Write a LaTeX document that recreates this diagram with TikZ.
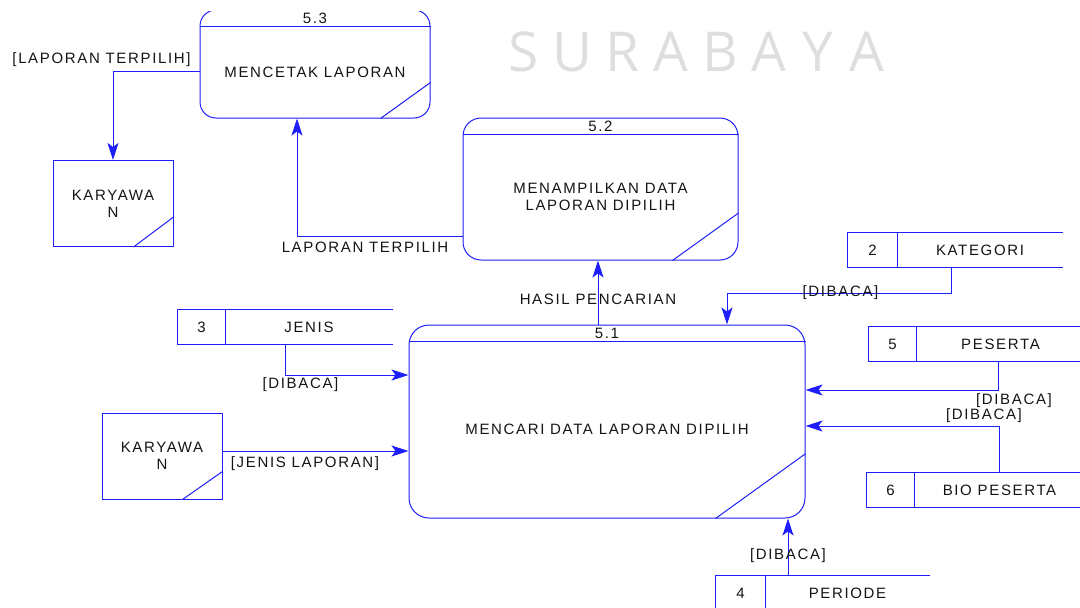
\documentclass[tikz,border=0pt]{standalone}
\usepackage{fontspec}
\setmainfont{Liberation Sans}
\newfontfamily\labelfont[LetterSpace=11]{Liberation Sans}
\newfontfamily\markfont{Open Sans}
\usetikzlibrary{arrows.meta}
\definecolor{dfdblue}{RGB}{30,30,250}
\definecolor{inkgray}{RGB}{20,20,20}

\tikzset{
	line/.style={draw=dfdblue, line width=1pt},
	flow/.style={line, -{Stealth[length=17pt,width=11pt,inset=4pt]}},
	txt/.style={font=\labelfont\fontsize{15}{17}\selectfont, text=inkgray, align=center, inner sep=0pt},
	proc/.style={line, inner sep=0pt},
	entity/.style={line, txt, minimum width=120pt, minimum height=86pt},
	store/.style={inner sep=0pt, minimum height=34pt}
}

\newcommand{\proses}[9] % name, x left, y top, x right, y bottom, radius, number, text, diagonal
{
	% rounded box
	\node[proc, rounded corners=#6pt, minimum width=#4-#2, minimum height=#5-#3] (#1) at ({(#2+#4)/2},{(#3+#5)/2}) {};
	% header line and number
	\draw[line] ([yshift=-17pt]#1.north west) -- ([yshift=-17pt]#1.north east);
	\node[txt] (#1num) at ([yshift=-9pt]#1.north) {#7};
	% corner mark
	\draw[line] ([xshift=-#9pt]#1.south east) -- ([yshift=0.72*#9pt]#1.south east);
	\node[txt] (#1txt) at ([yshift=-8pt]#1.center) {#8};
}

\newcommand{\simpan}[7] % name, x left, y top, x divider, x right, number, label
{
	% frame open at right
	\node[store, minimum width=#5-#2] (#1) at ({(#2+#5)/2},#3+17) {};
	\draw[line] (#1.north east) -- (#1.north west) -- (#1.south west) -- (#1.south east);
	\draw[line] (#4,#3) -- (#4,#3+34);
	% number and name
	\node[txt] (#1num) at ({(#2+#4)/2},#3+17) {#6};
	\node[txt] (#1name) at ({(#4+#5)/2},#3+17) {#7};
}

\begin{document}
\begin{tikzpicture}[x=1pt, y=-1pt]
	\useasboundingbox (0,0) rectangle (1080,608);
	
	% watermark
	\foreach \ch [count=\i] in {S,U,R,A,B,A,Y,A}
		\node[font=\markfont\fontsize{55}{55}\selectfont, text=gray!26, inner sep=0pt] (wm\i) at (475+49*\i,52) {\ch};
	
	% processes
	\begin{scope}
		\clip (0,11.2) rectangle (1080,608);
		\proses{p3}{200}{10}{430}{118}{16}{5.3}{MENCETAK LAPORAN}{50}
	\end{scope}
	\proses{p2}{463}{118}{738}{260}{18}{5.2}{MENAMPILKAN DATA\\LAPORAN DIPILIH}{66}
	\proses{p1}{409}{325}{805}{518}{20}{5.1}{MENCARI DATA LAPORAN DIPILIH}{90}
	
	% external entities
	\node[entity] (k1) at (113,203.5) {KARYAWA\\N};
	\draw[line] ([xshift=-40pt]k1.south east) -- ([yshift=30pt]k1.south east);
	\node[entity] (k2) at (162,456) {KARYAWA\\N};
	\draw[line] ([xshift=-40pt]k2.south east) -- ([yshift=28pt]k2.south east);
	
	% data stores
	\simpan{s2}{848}{233}{897}{1063}{2}{KATEGORI}
	\simpan{s3}{178}{310}{225}{393}{3}{JENIS}
	\simpan{s5}{869}{327}{916}{1085}{5}{PESERTA}
	\simpan{s6}{867}{473}{914}{1085}{6}{BIO PESERTA}
	\simpan{s4}{716}{576}{765}{930}{4}{PERIODE}
	
	% flows
	\draw[flow] ([yshift=-7pt]p3.west) -| (k1.north);
	\draw[flow] ([yshift=-47pt]p2.west) -| ([xshift=-18pt]p3.south);
	\draw[flow] ([xshift=-9pt]p1.north) -- ([xshift=-9pt]p1.north |- p2.south);
	\draw[flow] ([xshift=-4.5pt]s2.south) -- ++(0,26) -| ([xshift=120pt]p1.north);
	\draw[flow] (s3.south) |- ([yshift=46.5pt]p1.west);
	\draw[flow] ([yshift=5pt]k2.east) -- ([yshift=5pt]k2.east -| p1.west);
	\draw[flow] ([xshift=21pt]s5.south) |- ([yshift=31.5pt]p1.east);
	\draw[flow] ([xshift=23pt]s6.north) |- ([yshift=-4.5pt]p1.east);
	\draw[flow] ([xshift=-35pt]s4.north) -- ([xshift=-35pt]s4.north |- p1.south);
	
	% flow labels
	\node[txt] (lb1) at (101.5,60) {[LAPORAN TERPILIH]};
	\node[txt] (lb2) at (365,247) {LAPORAN TERPILIH};
	\node[txt] (lb3) at (598,299) {HASIL PENCARIAN};
	\node[txt] (lb4) at (840.5,293) {[DIBACA]};
	\node[txt] (lb5) at (300.5,385) {[DIBACA]};
	\node[txt] (lb6) at (305,464) {[JENIS LAPORAN]};
	\node[txt] (lb7) at (1014,401) {[DIBACA]};
	\node[txt] (lb8) at (984,416) {[DIBACA]};
	\node[txt] (lb9) at (788,556) {[DIBACA]};
\end{tikzpicture}
\end{document}
